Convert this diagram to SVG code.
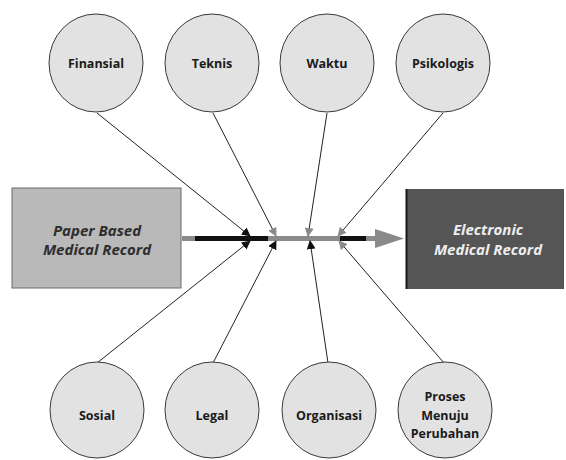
<svg xmlns="http://www.w3.org/2000/svg" width="566" height="460" viewBox="0 0 566 460">
<style>
.c{fill:#e2e2e2;stroke:#3a3a3a;stroke-width:1}
.t{font-family:"Open Sans","Liberation Sans",sans-serif;font-weight:bold;font-size:12.5px;fill:#1a1a1a;text-anchor:middle}
.b{font-family:"Open Sans","Liberation Sans",sans-serif;font-weight:bold;font-style:italic;font-size:15px;text-anchor:middle}
.l{stroke:#222;stroke-width:1;fill:none}
</style>
<defs>
<marker id="mk" viewBox="0 0 10 10" refX="9" refY="5" markerWidth="9" markerHeight="9" markerUnits="userSpaceOnUse" orient="auto">
<path d="M0,0 L10,5 L0,10 z" fill="#111"/>
</marker>
<marker id="mg" viewBox="0 0 10 10" refX="9" refY="5" markerWidth="9" markerHeight="9" markerUnits="userSpaceOnUse" orient="auto">
<path d="M0,0 L10,5 L0,10 z" fill="#8a8a8a"/>
</marker>
</defs>
<rect width="566" height="460" fill="#fff"/>
<g id="paper">
<rect x="12" y="188" width="169" height="100" fill="#b9b9b9" stroke="#6a6a6a" stroke-width="1"/>
<text class="b" x="97" y="236" fill="#2e2e2e">Paper Based</text>
<text class="b" x="97" y="255" fill="#2e2e2e">Medical Record</text>
</g>
<g id="electronic">
<rect x="406" y="189" width="158" height="100" fill="#555"/>
<line x1="406.5" y1="189" x2="406.5" y2="289" stroke="#1a1a1a" stroke-width="2"/>
<text class="b" x="488" y="235" fill="#eee">Electronic</text>
<text class="b" x="488" y="255" fill="#eee">Medical Record</text>
</g>
<g id="main-arrow">
<line x1="182" y1="238.5" x2="378" y2="238.5" stroke="#8a8a8a" stroke-width="5"/>
<line x1="195" y1="238.5" x2="268" y2="238.5" stroke="#111" stroke-width="5"/>
<line x1="340" y1="238.5" x2="366" y2="238.5" stroke="#111" stroke-width="5"/>
<polygon points="375,229 404,238.5 375,248" fill="#8a8a8a"/>
</g>
<g id="connectors">
<line class="l" x1="97" y1="113" x2="250" y2="236" marker-end="url(#mk)"/>
<line class="l" x1="213" y1="113" x2="276" y2="236" marker-end="url(#mg)"/>
<line class="l" x1="327" y1="113" x2="308" y2="236" marker-end="url(#mg)"/>
<line class="l" x1="443" y1="113" x2="338" y2="236" marker-end="url(#mg)"/>
<line class="l" x1="97" y1="363" x2="250" y2="241" marker-end="url(#mk)"/>
<line class="l" x1="213" y1="363" x2="276" y2="241" marker-end="url(#mk)"/>
<line class="l" x1="328" y1="363" x2="310" y2="241" marker-end="url(#mk)"/>
<line class="l" x1="444" y1="363" x2="339" y2="241" marker-end="url(#mg)"/>
</g>
<g id="finansial"><ellipse class="c" cx="96" cy="63" rx="47" ry="49"/><text class="t" x="96" y="68">Finansial</text></g>
<g id="teknis"><ellipse class="c" cx="212" cy="63" rx="47" ry="49"/><text class="t" x="212" y="68">Teknis</text></g>
<g id="waktu"><ellipse class="c" cx="327" cy="63" rx="47" ry="49"/><text class="t" x="327" y="68">Waktu</text></g>
<g id="psikologis"><ellipse class="c" cx="443" cy="63" rx="47" ry="49"/><text class="t" x="443" y="68">Psikologis</text></g>
<g id="sosial"><ellipse class="c" cx="97" cy="410" rx="47" ry="48"/><text class="t" x="97" y="420">Sosial</text></g>
<g id="legal"><ellipse class="c" cx="212" cy="410" rx="47" ry="48"/><text class="t" x="212" y="420">Legal</text></g>
<g id="organisasi"><ellipse class="c" cx="329" cy="410" rx="47" ry="48"/><text class="t" x="329" y="420">Organisasi</text></g>
<g id="proses"><ellipse class="c" cx="445" cy="410" rx="47" ry="48"/><text class="t" x="445" y="401">Proses</text><text class="t" x="445" y="420">Menuju</text><text class="t" x="445" y="438">Perubahan</text></g>
</svg>
